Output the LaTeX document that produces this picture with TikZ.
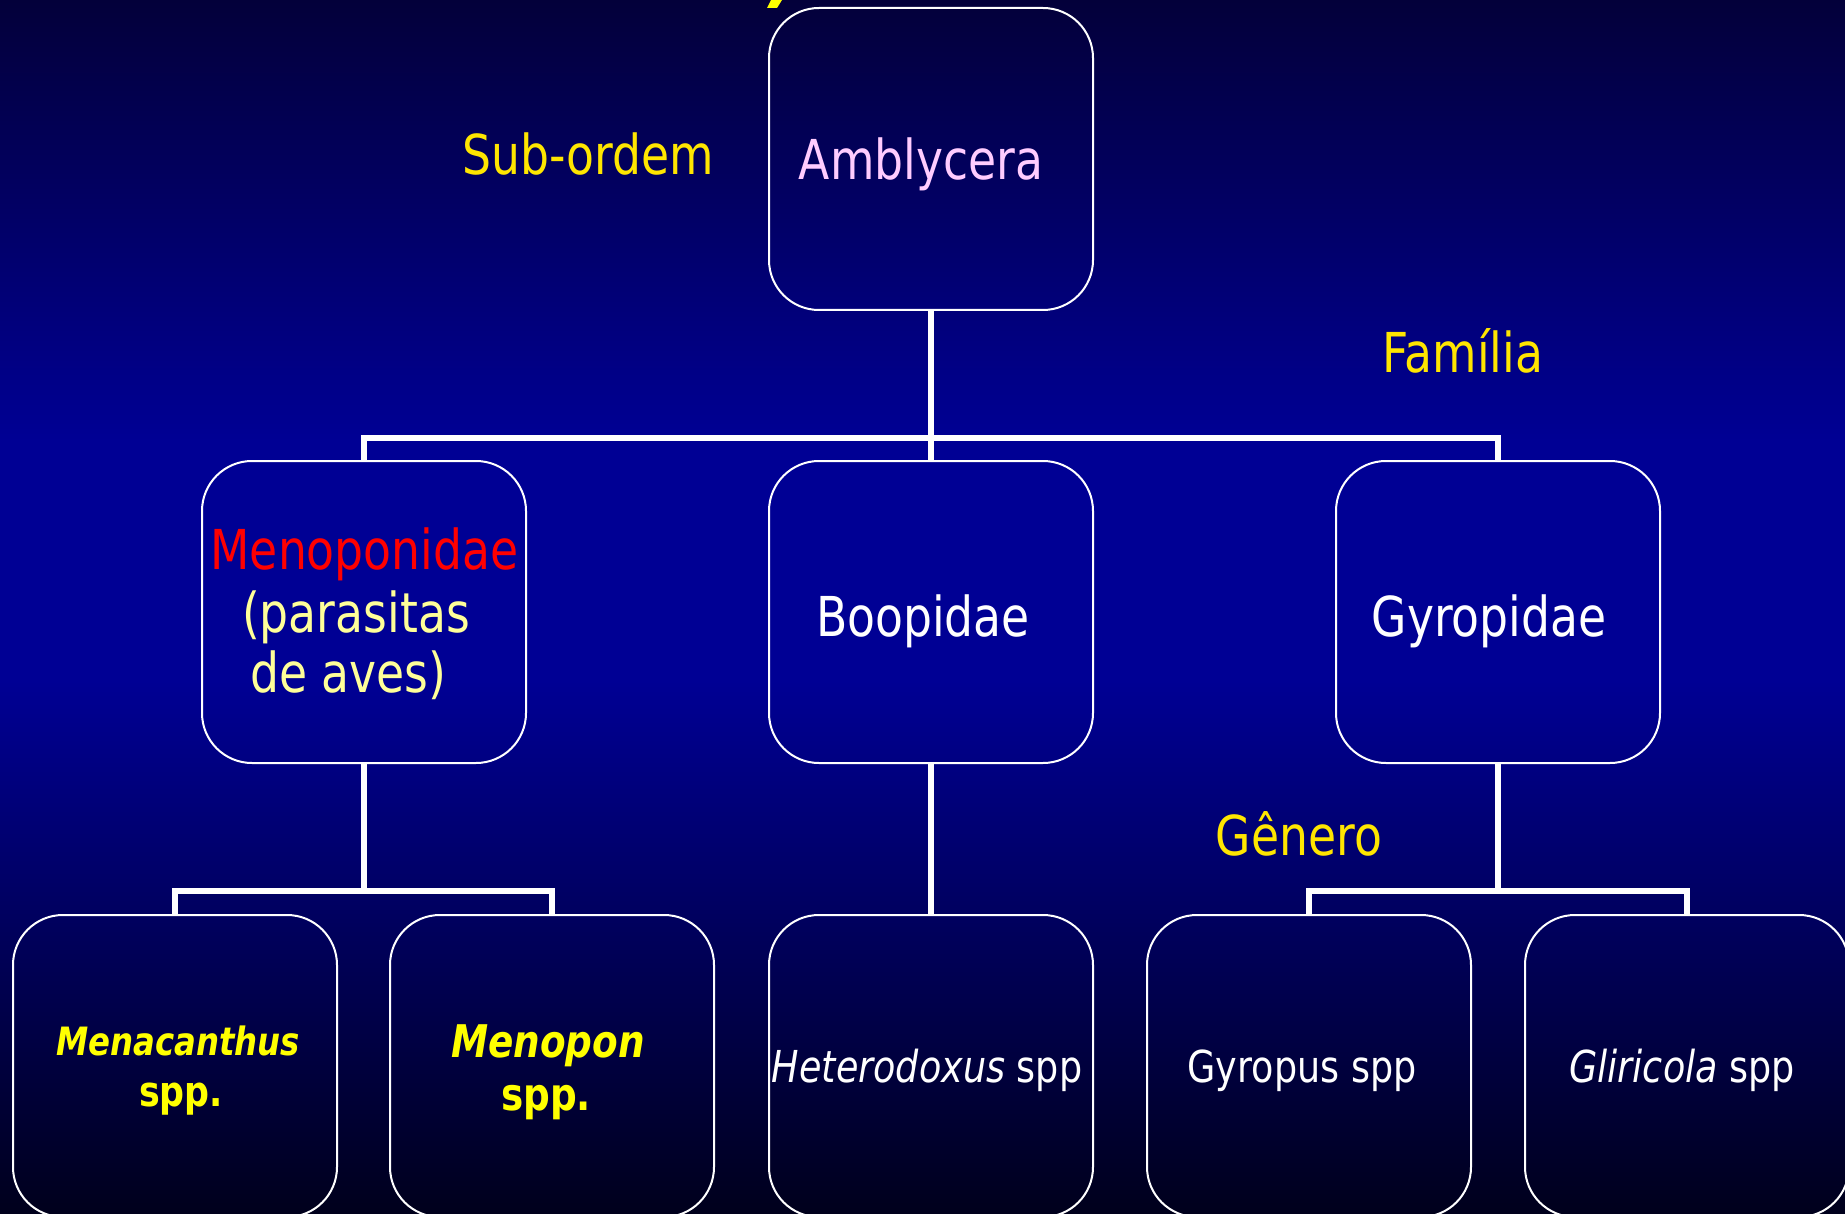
\documentclass[tikz,border=0pt]{standalone}
\usepackage{fontspec}
\newfontfamily\tah[FakeStretch=0.83]{DejaVu Sans}
\definecolor{bgtop}{RGB}{3,0,58}
\definecolor{bgmid}{RGB}{0,0,148}
\definecolor{bgbot}{RGB}{0,0,28}
\definecolor{rankyellow}{RGB}{255,230,0}
\definecolor{genusyellow}{RGB}{255,255,0}
\definecolor{paleyellow}{RGB}{255,255,153}
\definecolor{pinklabel}{RGB}{255,204,255}
\definecolor{redlabel}{RGB}{255,0,0}
\tikzset{
  taxbox/.style={draw=white, line width=2pt, rounded corners=50pt,
    minimum width=324pt, minimum height=302pt, inner sep=0pt, outer sep=0pt},
  conn/.style={draw=white, line width=6pt},
  bigtext/.style={anchor=base, inner sep=0pt, font=\tah\fontsize{55}{60}\selectfont},
  smalltext/.style={anchor=base, inner sep=0pt, text=white, font=\tah\fontsize{44}{50}\selectfont},
}
\begin{document}
\begin{tikzpicture}[x=1pt, y=-1pt]
  \useasboundingbox (0,0) rectangle (1845,1214);
  \clip (0,0) rectangle (1845,1214);
  % background gradient
  \shade[top color=bgtop, bottom color=bgmid] (0,0) rectangle (1845,441);
  \fill[bgmid] (0,440) rectangle (1845,681);
  \shade[top color=bgmid, bottom color=bgbot] (0,680) rectangle (1845,1214);
  % tail of the cut-off title
  \fill[genusyellow] (771,0) -- (782,0) -- (777,8) -- (767,8) -- cycle;

  % boxes
  \node[taxbox] (amb)   at (931,159)  {};
  \node[taxbox] (meno)  at (364,612)  {};
  \node[taxbox] (boop)  at (931,612)  {};
  \node[taxbox] (gyro)  at (1498,612) {};
  \node[taxbox] (menac) at (175,1066) {};
  \node[taxbox] (menop) at (552,1066) {};
  \node[taxbox] (het)   at (931,1066) {};
  \node[taxbox] (gyrop) at (1309,1066) {};
  \node[taxbox] (glir)  at (1687,1066) {};

  % connectors
  \coordinate (j1) at (931,438);
  \coordinate (j2) at (364,891);
  \coordinate (j3) at (1498,891);
  \draw[conn] (amb.south) -- (j1);
  \draw[conn] (meno.north) |- (j1) -| (gyro.north);
  \draw[conn] (boop.north) -- (j1);
  \draw[conn] (meno.south) -- (j2);
  \draw[conn] (menac.north) |- (j2) -| (menop.north);
  \draw[conn] (boop.south) -- (het.north);
  \draw[conn] (gyro.south) -- (j3);
  \draw[conn] (gyrop.north) |- (j3) -| (glir.north);

  % rank labels
  \node[bigtext, text=rankyellow] (lsub) at (588,175) {Sub-ordem};
  \node[bigtext, text=rankyellow] (lfam) at (1463,373) {Família};
  \node[bigtext, text=rankyellow] (lgen) at (1299,855) {Gênero};

  % box texts
  \node[bigtext, text=pinklabel] (tamb) at (921,180) {Amblycera};
  \node[bigtext, text=redlabel] (tmeno) at (364.5,569) {Menoponidae};
  \node[bigtext, text=paleyellow] (tpar) at (356,632) {(parasitas};
  \node[bigtext, text=paleyellow] (taves) at (348.5,692) {de aves)};
  \node[bigtext, text=white] (tboop) at (923,636) {Boopidae};
  \node[bigtext, text=white] (tgyro) at (1489,636) {Gyropidae};

  \node[anchor=base, inner sep=0pt, text=genusyellow,
        font=\tah\fontsize{39}{44}\selectfont\bfseries\itshape] (tmenac) at (178,1055) {Menacanthus};
  \node[anchor=base, inner sep=0pt, text=genusyellow,
        font=\tah\fontsize{42}{48}\selectfont\bfseries] (tspp1) at (181,1106) {spp.};
  \node[anchor=base, inner sep=0pt, text=genusyellow,
        font=\tah\fontsize{45}{50}\selectfont\bfseries\itshape] (tmenop) at (548,1057) {Menopon};
  \node[anchor=base, inner sep=0pt, text=genusyellow,
        font=\tah\fontsize{45}{50}\selectfont\bfseries] (tspp2) at (546,1110) {spp.};

  \node[smalltext] (thet) at (927,1082) {\textit{Heterodoxus} spp};
  \node[smalltext] (tgyrop) at (1302,1082) {Gyropus spp};
  \node[smalltext] (tglir) at (1682,1082) {\textit{Gliricola} spp};
\end{tikzpicture}
\end{document}
